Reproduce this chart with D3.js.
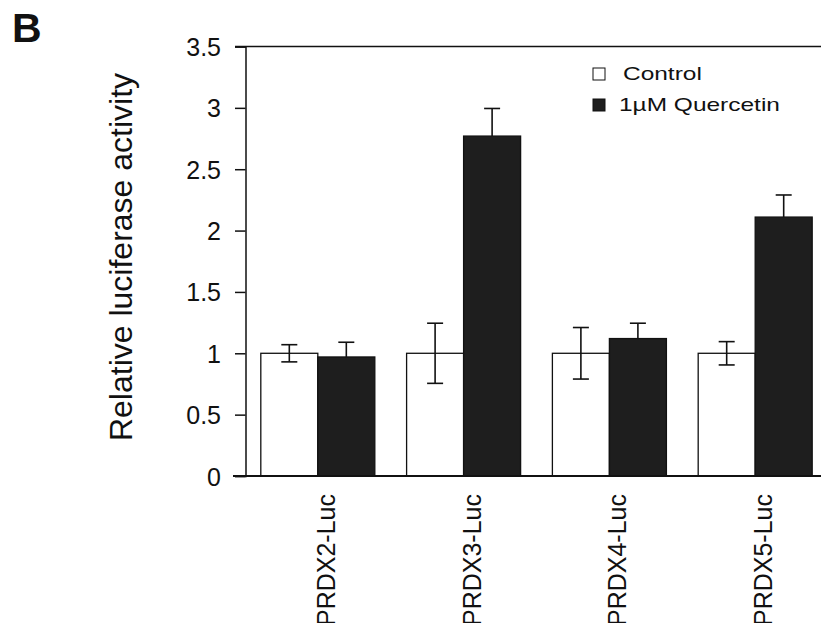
<!DOCTYPE html>
<html>
<head>
<meta charset="utf-8">
<script src="https://cdn.jsdelivr.net/npm/d3@7"></script>
<style>
  html, body { margin: 0; padding: 0; background: #fff; }
  svg { display: block; font-family: "Liberation Sans", Arial, Helvetica, sans-serif; }
</style>
</head>
<body>
<svg id="chart" width="821" height="623"></svg>
<script>
// Reporter constructs and treatment series
const constructs = ["PRDX2-Luc", "PRDX3-Luc", "PRDX4-Luc", "PRDX5-Luc"];
const seriesNames = ["Control", "1µM Quercetin"];
const controlMean = [1.0, 1.0, 1.0, 1.0];
const controlErr = [0.07, 0.245, 0.21, 0.095];
const quercetinMean = [0.97, 2.77, 1.12, 2.11];
const quercetinErr = [0.12, 0.225, 0.125, 0.18];
const yTicks = [0, 0.5, 1, 1.5, 2, 2.5, 3, 3.5];
const yTickLabels = ["0", "0.5", "1", "1.5", "2", "2.5", "3", "3.5"];

const ink = "#111";
const darkFill = "#1e1e1e";

const svg = d3.select("#chart");

const y = d3.scaleLinear().domain([0, 3.5]).range([476, 46.5]);
const axisX = 245.5;

const x0 = d3.scaleBand()
  .domain(constructs)
  .range([axisX, 827.5])
  .paddingInner(0.218)
  .paddingOuter(0.105);

const x1 = d3.scaleBand()
  .domain(seriesNames)
  .range([0, x0.bandwidth()]);

const rows = constructs.map((c, i) => ({
  construct: c,
  bars: [
    { series: seriesNames[0], mean: controlMean[i], err: controlErr[i] },
    { series: seriesNames[1], mean: quercetinMean[i], err: quercetinErr[i] }
  ]
}));

const fillFor = s => s === seriesNames[0] ? "#fff" : darkFill;

// Bars
const groups = svg.append("g").selectAll("g")
  .data(rows)
  .join("g")
  .attr("transform", d => `translate(${x0(d.construct)},0)`);

groups.selectAll("rect")
  .data(d => d.bars)
  .join("rect")
  .attr("x", d => x1(d.series))
  .attr("y", d => y(d.mean))
  .attr("width", x1.bandwidth())
  .attr("height", d => y(0) - y(d.mean))
  .attr("fill", d => fillFor(d.series))
  .attr("stroke", ink)
  .attr("stroke-width", 1.3);

// Error bars (the lower half on dark bars sits inside the bar)
const cap = 8;
const err = groups.selectAll("g.err")
  .data(d => d.bars)
  .join("g")
  .attr("class", "err")
  .attr("stroke", ink)
  .attr("stroke-width", 1.6);

err.append("line")
  .attr("x1", d => x1(d.series) + x1.bandwidth() / 2)
  .attr("x2", d => x1(d.series) + x1.bandwidth() / 2)
  .attr("y1", d => y(d.mean + d.err))
  .attr("y2", d => d.series === seriesNames[0] ? y(d.mean - d.err) : y(d.mean));
err.append("line")
  .attr("x1", d => x1(d.series) + x1.bandwidth() / 2 - cap)
  .attr("x2", d => x1(d.series) + x1.bandwidth() / 2 + cap)
  .attr("y1", d => y(d.mean + d.err))
  .attr("y2", d => y(d.mean + d.err));
err.filter(d => d.series === seriesNames[0]).append("line")
  .attr("x1", d => x1(d.series) + x1.bandwidth() / 2 - cap)
  .attr("x2", d => x1(d.series) + x1.bandwidth() / 2 + cap)
  .attr("y1", d => y(d.mean - d.err))
  .attr("y2", d => y(d.mean - d.err));

// Y axis
const yAxis = d3.axisLeft(y)
  .tickValues(yTicks)
  .tickFormat((d, i) => yTickLabels[i])
  .tickSize(10.5)
  .tickPadding(14);

const gy = svg.append("g")
  .attr("transform", `translate(${axisX},0)`)
  .call(yAxis);
gy.select(".domain").attr("stroke", ink).attr("stroke-width", 1.5);
gy.selectAll(".tick line").attr("stroke", ink).attr("stroke-width", 1.5);
gy.selectAll(".tick text")
  .attr("fill", ink)
  .style("font-size", "25px")
  .attr("dy", "0.36em");

// Top frame line and baseline
svg.append("line")
  .attr("x1", axisX - 10.5).attr("x2", 821)
  .attr("y1", y(3.5)).attr("y2", y(3.5))
  .attr("stroke", ink).attr("stroke-width", 1.5);
svg.append("line")
  .attr("x1", 233).attr("x2", 821)
  .attr("y1", y(0)).attr("y2", y(0))
  .attr("stroke", ink).attr("stroke-width", 1.8);

// Category labels, rotated
svg.append("g").selectAll("text")
  .data(constructs)
  .join("text")
  .attr("transform", d => `translate(${x0(d) + x0.bandwidth() / 2 + 17},494) rotate(-90)`)
  .attr("text-anchor", "end")
  .attr("fill", ink)
  .style("font-size", "25px")
  .text(d => d);

// Y axis title
svg.append("text")
  .attr("transform", `translate(132,257) rotate(-90)`)
  .attr("text-anchor", "middle")
  .attr("fill", ink)
  .style("font-size", "32px")
  .text("Relative luciferase activity");

// Panel letter
svg.append("text")
  .attr("x", 12).attr("y", 42)
  .attr("fill", ink)
  .style("font-size", "41px")
  .style("font-weight", "bold")
  .text("B");

// Legend
const legend = svg.append("g").selectAll("g")
  .data(seriesNames)
  .join("g")
  .attr("transform", (d, i) => `translate(593,${68 + i * 31})`);
legend.append("rect")
  .attr("width", 12).attr("height", 12)
  .attr("fill", d => fillFor(d))
  .attr("stroke", ink)
  .attr("stroke-width", 1);
legend.append("text")
  .attr("transform", (d, i) => `translate(${i === 0 ? 30 : 26},12) scale(1.36,1)`)
  .attr("fill", ink)
  .style("font-size", "18px")
  .text(d => d);
</script>
</body>
</html>
